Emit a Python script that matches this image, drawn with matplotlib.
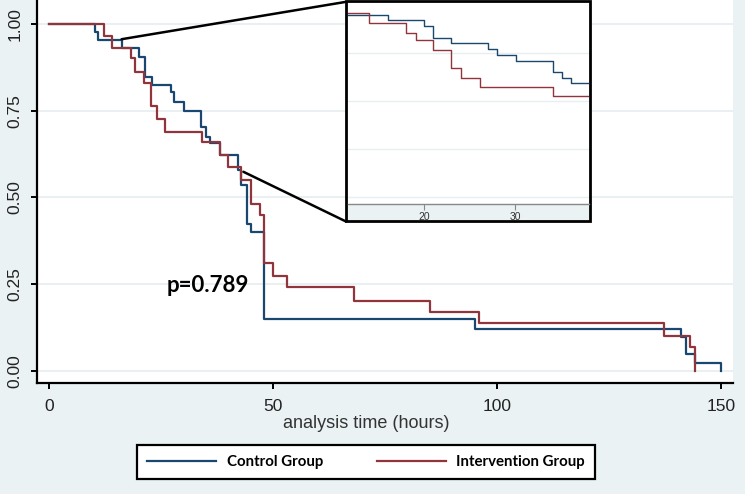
import matplotlib
matplotlib.use("Agg")
import matplotlib.pyplot as plt
from matplotlib.patches import Rectangle, ConnectionPatch
from matplotlib.lines import Line2D

# Kaplan-Meier steps (hours, survival)
ctrl_t = [0, 10.3, 11.0, 16.2, 20.0, 21.4, 23.1, 27.2, 28.0, 30.2, 34.0, 35.0, 36.0,
          38.2, 42.1, 42.9, 44.1, 45.0, 48.0, 95.2, 141.2, 142.1, 144.2, 150.1]
ctrl_s = [1.0, 0.976, 0.954, 0.930, 0.906, 0.848, 0.824, 0.804, 0.775, 0.750, 0.702, 0.675, 0.657,
          0.621, 0.579, 0.535, 0.424, 0.400, 0.149, 0.122, 0.097, 0.049, 0.022, 0.0]

int_t = [0, 12.3, 14.0, 18.2, 19.2, 21.2, 22.7, 24.0, 25.9, 34.1, 38.2, 39.9, 42.9,
         45.1, 47.1, 48.0, 50.1, 53.2, 68.1, 85.0, 96.0, 137.3, 143.2, 144.3]
int_s = [1.0, 0.966, 0.930, 0.901, 0.861, 0.829, 0.763, 0.727, 0.689, 0.659, 0.621, 0.588, 0.550,
         0.481, 0.450, 0.310, 0.274, 0.242, 0.203, 0.171, 0.139, 0.102, 0.070, 0.0]

# zoomed inset
ins_ctrl_t = [11.6, 16.0, 20.0, 21.0, 23.0, 27.0, 28.0, 30.1, 34.1, 35.1, 36.1, 38.1]
ins_ctrl_s = [0.979, 0.967, 0.955, 0.930, 0.920, 0.907, 0.896, 0.883, 0.860, 0.848, 0.836, 0.836]
ins_int_t = [11.6, 14.0, 18.0, 19.1, 21.0, 23.0, 24.0, 26.1, 34.1, 38.1]
ins_int_s = [0.982, 0.962, 0.941, 0.926, 0.906, 0.868, 0.848, 0.829, 0.810, 0.810]

x_ticks = [0, 50, 100, 150]
y_ticks = [0.0, 0.25, 0.50, 0.75, 1.00]
y_labels = ["0.00", "0.25", "0.50", "0.75", "1.00"]
inset_x_ticks = [20, 30]
inset_grid = [0.6, 0.7, 0.8, 0.9]
labels = ["Control Group", "Intervention Group"]
p_text = "p=0.789"

NAVY = "#1a476f"
MAROON = "#90353b"
BG = "#eaf2f3"
GRID = "#e6eef0"

W, H = 745, 494
fig = plt.figure(figsize=(W / 100, H / 100), dpi=100)
fig.patch.set_facecolor(BG)


def px(x0, y0, x1, y1):
    # pixel box (from top-left) -> figure fraction rect
    return [x0 / W, 1 - y1 / H, (x1 - x0) / W, (y1 - y0) / H]


ax = fig.add_axes(px(37, 0, 733, 383))
ax.set_facecolor("white")
ax.step(ctrl_t, ctrl_s, where="post", color=NAVY, lw=1.6, zorder=3)
ax.step(int_t, int_s, where="post", color=MAROON, lw=1.6, zorder=3)
ax.set_xlim(-2.68, 152.7)
ax.set_ylim(-0.0346, 1.069)
ax.set_xticks(x_ticks)
ax.set_yticks(y_ticks)
ax.set_yticklabels(y_labels, rotation=90, va="center")
for v in y_ticks:
    ax.axhline(v, color=GRID, lw=1.2, zorder=1)
for s in ["top", "right"]:
    ax.spines[s].set_visible(False)
for s in ["left", "bottom"]:
    ax.spines[s].set_linewidth(1.6)
    ax.spines[s].set_color("black")
ax.tick_params(axis="both", length=4.5, width=1.4, direction="out",
               labelsize=12.5, colors="black")
ax.tick_params(axis="y", pad=6)
ax.tick_params(axis="x", pad=7)
for lab in ax.get_xticklabels() + ax.get_yticklabels():
    lab.set_fontfamily("Liberation Sans")
    lab.set_color("#222222")

ax.text(26.3, 0.245, p_text, ha="left", va="center", fontsize=16,
        fontweight="bold", family="Lato", color="black")

fig.text(366 / W, 1 - 423 / H, "analysis time (hours)", ha="center", va="center",
         fontsize=13, family="Liberation Sans", color="#333333")

# inset frame and panel
frame = Rectangle((346 / W, 1 - 221.5 / H), (589.5 - 346) / W, (221.5 - 1.5) / H,
                  transform=fig.transFigure, facecolor=BG, edgecolor="black",
                  lw=2.0, zorder=4)
fig.add_artist(frame)

axi = fig.add_axes(px(347.5, 2.5, 588.5, 204))
axi.set_zorder(5)
axi.set_facecolor("white")
axi.step(ins_ctrl_t, ins_ctrl_s, where="post", color=NAVY, lw=1.0)
axi.step(ins_int_t, ins_int_s, where="post", color=MAROON, lw=1.0)
for v in inset_grid:
    axi.axhline(v, color=GRID, lw=1.0, zorder=0)
axi.set_xlim(11.59, 38.05)
axi.set_ylim(0.5853, 1.0044)
axi.set_xticks(inset_x_ticks)
axi.set_yticks([])
for s in ["top", "right", "left"]:
    axi.spines[s].set_visible(False)
axi.spines["bottom"].set_color("#888888")
axi.spines["bottom"].set_linewidth(1.0)
axi.tick_params(axis="x", length=4, width=0.8, colors="#888888", labelsize=7.5, pad=1.5)
for lab in axi.get_xticklabels():
    lab.set_fontfamily("Liberation Sans")
    lab.set_color("#333333")

# connector lines from the main curves to the inset corners
for (hx, hy), (cx, cy) in [((16.2, 0.956), (345, 2)), ((43.4, 0.574), (346, 221.5))]:
    con = ConnectionPatch(xyA=(hx, hy), coordsA=ax.transData,
                          xyB=(cx / W, 1 - cy / H), coordsB=fig.transFigure,
                          color="black", lw=1.8, zorder=3.5)
    fig.add_artist(con)

handles = [Line2D([], [], color=NAVY, lw=1.6), Line2D([], [], color=MAROON, lw=1.6)]
leg = fig.legend(handles, labels, loc="center", bbox_to_anchor=(366 / W, 1 - 462 / H),
                 ncol=2, frameon=True, fancybox=False, edgecolor="black",
                 facecolor="white", framealpha=1, handlelength=4.6, handletextpad=0.7,
                 columnspacing=3.6, borderpad=0.65,
                 prop={"family": "Lato", "weight": "bold", "size": 10.8})
leg.get_frame().set_linewidth(1.6)

fig.savefig("out.png", dpi=100, facecolor=fig.get_facecolor())
